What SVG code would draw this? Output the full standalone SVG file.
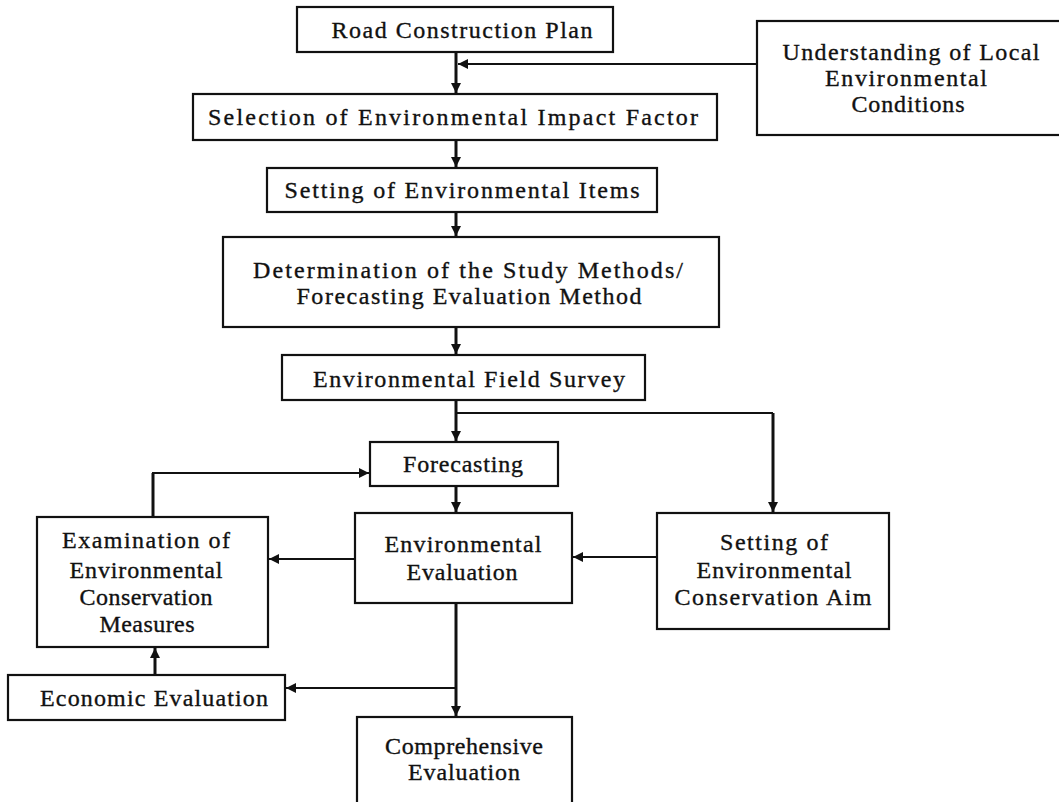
<svg xmlns="http://www.w3.org/2000/svg" width="1059" height="802" viewBox="0 0 1059 802">
<style>
.box{fill:#fff;stroke:#111;stroke-width:2.2}
.t{font-family:"Liberation Serif","Times New Roman",serif;font-size:24px;fill:#111;stroke:#111;stroke-width:0.35;text-anchor:middle}
.v{fill:none;stroke:#111;stroke-width:3}
.h{fill:none;stroke:#111;stroke-width:1.8}
</style>
<defs>
<marker id="ah" markerUnits="userSpaceOnUse" markerWidth="12" markerHeight="10" refX="10" refY="5" orient="auto">
<path d="M0,0 L10,5 L0,10 Z" fill="#111"/>
</marker>
</defs>
<rect width="1059" height="802" fill="#fff"/>
<g id="connectors">
<path class="v" d="M456,52 V93" marker-end="url(#ah)"/>
<path class="h" d="M757,64 H458" marker-end="url(#ah)"/>
<path class="v" d="M456,140 V167" marker-end="url(#ah)"/>
<path class="v" d="M456,212 V236" marker-end="url(#ah)"/>
<path class="v" d="M456,327 V354" marker-end="url(#ah)"/>
<path class="v" d="M456,400 V441" marker-end="url(#ah)"/>
<path class="h" d="M456,413 H773"/>
<path class="v" d="M773,413 V512" marker-end="url(#ah)"/>
<path class="v" d="M456,486 V512" marker-end="url(#ah)"/>
<path class="h" d="M657,557 H573" marker-end="url(#ah)"/>
<path class="h" d="M355,559 H269" marker-end="url(#ah)"/>
<path class="v" d="M153,517 V473"/>
<path class="h" d="M152,473 H369" marker-end="url(#ah)"/>
<path class="v" d="M155,675 V648" marker-end="url(#ah)"/>
<path class="v" d="M456,603 V716" marker-end="url(#ah)"/>
<path class="h" d="M456,688 H286" marker-end="url(#ah)"/>
</g>
<g id="road-plan">
<rect class="box" x="297" y="7" width="316" height="45"/>
<text class="t" x="462" y="38" textLength="261" lengthAdjust="spacing">Road Construction Plan</text>
</g>
<g id="local-conditions">
<rect class="box" x="757" y="21" width="310" height="114"/>
<text class="t" x="911" y="60" textLength="257" lengthAdjust="spacing">Understanding of Local</text>
<text class="t" x="906" y="86" textLength="162" lengthAdjust="spacing">Environmental</text>
<text class="t" x="908" y="112" textLength="113" lengthAdjust="spacing">Conditions</text>
</g>
<g id="impact-factor">
<rect class="box" x="193" y="94" width="524" height="46"/>
<text class="t" x="453" y="125" textLength="490" lengthAdjust="spacing">Selection of Environmental Impact Factor</text>
</g>
<g id="env-items">
<rect class="box" x="267" y="168" width="390" height="44"/>
<text class="t" x="462" y="198" textLength="355" lengthAdjust="spacing">Setting of Environmental Items</text>
</g>
<g id="study-methods">
<rect class="box" x="223" y="237" width="496" height="90"/>
<text class="t" x="468" y="278" textLength="430" lengthAdjust="spacing">Determination of the Study Methods/</text>
<text class="t" x="469" y="304" textLength="345" lengthAdjust="spacing">Forecasting Evaluation Method</text>
</g>
<g id="field-survey">
<rect class="box" x="282" y="355" width="363" height="45"/>
<text class="t" x="469" y="387" textLength="312" lengthAdjust="spacing">Environmental Field Survey</text>
</g>
<g id="forecasting">
<rect class="box" x="370" y="442" width="188" height="44"/>
<text class="t" x="463" y="472" textLength="120" lengthAdjust="spacing">Forecasting</text>
</g>
<g id="env-evaluation">
<rect class="box" x="355" y="513" width="217" height="90"/>
<text class="t" x="463" y="552" textLength="157" lengthAdjust="spacing">Environmental</text>
<text class="t" x="462" y="580" textLength="111" lengthAdjust="spacing">Evaluation</text>
</g>
<g id="conservation-aim">
<rect class="box" x="657" y="513" width="232" height="116"/>
<text class="t" x="774" y="550" textLength="108" lengthAdjust="spacing">Setting of</text>
<text class="t" x="774" y="578" textLength="155" lengthAdjust="spacing">Environmental</text>
<text class="t" x="773" y="605" textLength="197" lengthAdjust="spacing">Conservation Aim</text>
</g>
<g id="conservation-measures">
<rect class="box" x="37" y="517" width="231" height="130"/>
<text class="t" x="146" y="548" textLength="168" lengthAdjust="spacing">Examination of</text>
<text class="t" x="146" y="578" textLength="153" lengthAdjust="spacing">Environmental</text>
<text class="t" x="146" y="605" textLength="133" lengthAdjust="spacing">Conservation</text>
<text class="t" x="147" y="632" textLength="95" lengthAdjust="spacing">Measures</text>
</g>
<g id="economic-evaluation">
<rect class="box" x="8" y="675" width="277" height="45"/>
<text class="t" x="154" y="706" textLength="228" lengthAdjust="spacing">Economic Evaluation</text>
</g>
<g id="comprehensive-evaluation">
<rect class="box" x="357" y="717" width="215" height="100"/>
<text class="t" x="464" y="754" textLength="158" lengthAdjust="spacing">Comprehensive</text>
<text class="t" x="464" y="780" textLength="112" lengthAdjust="spacing">Evaluation</text>
</g>
</svg>
